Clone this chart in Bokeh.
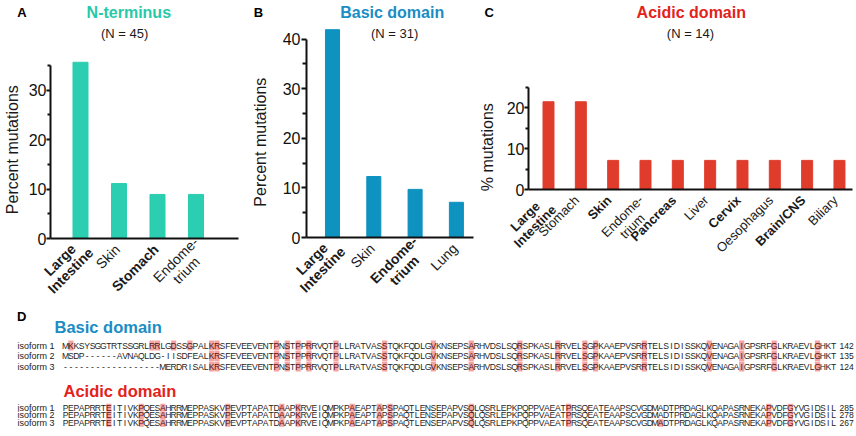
import math
from bokeh.plotting import figure
from bokeh.models import Range1d, FixedTicker, Label, ColumnDataSource
from bokeh.layouts import row, column
from bokeh.core.properties import value
from bokeh.embed import file_html
from bokeh.resources import INLINE

FONT = "Liberation Sans"

# ---------------- data ----------------
nterm_sites = ["Large\nIntestine", "Skin", "Stomach", "Endome-\ntrium"]
nterm_bold = [True, False, True, False]
nterm_pct = [35.6, 11.1, 8.9, 8.9]
nterm_ticks = [0, 10, 20, 30]
nterm_minor = [5, 15, 25, 35]

basic_sites = ["Large\nIntestine", "Skin", "Endome-\ntrium", "Lung"]
basic_bold = [True, False, True, False]
basic_pct = [41.9, 12.3, 9.7, 7.1]
basic_ticks = [0, 10, 20, 30, 40]
basic_minor = [5, 15, 25, 35]

acidic_sites = ["Large\nIntestine", "Stomach", "Skin", "Endome-\ntrium", "Pancreas",
                "Liver", "Cervix", "Oesophagus", "Brain/CNS", "Biliary"]
acidic_bold = [True, False, True, False, True, False, True, False, True, False]
acidic_pct = [21.4, 21.4, 7.1, 7.1, 7.1, 7.1, 7.1, 7.1, 7.1, 7.1]
acidic_ticks = [0, 10, 20]
acidic_minor = [5, 15, 25]

isoform_names = ["isoform 1", "isoform 2", "isoform 3"]
basic_core = ("KRSFEVEEVENTPNSTPPRRVQTPLLRATVASSTQKFQDLGVKNSEPSARHVDSLSQRSPKASLRRVELSGPK"
              "AAEPVSRRTELSIDISSKQVENAGAIGPSRFGLKRAEVLGHKT")
basic_seqs = ["MKKSYSGGTRTSSGRLRRLGDSSGPAL" + basic_core,
              "MSDP------AVNAQLDG-IISDFEAL" + basic_core,
              "------------------MERDRISAL" + basic_core]
basic_ends = [142, 135, 124]
basic_common = [27, 28, 39, 41, 43, 45, 50, 59, 68, 75, 84, 91, 96, 98, 107, 119, 125, 131, 139]
basic_marks = [[1, 16, 17, 20, 23] + basic_common, basic_common, basic_common]

acidic_seq = ("PEPAPRRTEITIVKPQESAHRRMEPPASKVPEVPTAPATDAAPKRVEIQMPKPAEAPTAPSPAQTLENSEPAPVSQ"
              "LQSRLEPKPQPPVAEATPRSQEATEAAPSCVGDMADTPRDAGLKQAPASRNEKAPVDFGYVGIDSIL")
acidic_seqs = [acidic_seq, acidic_seq, acidic_seq]
acidic_ends = [285, 278, 267]
acidic_common = [8, 14, 18, 30, 40, 43, 53, 58, 60, 75, 93, 130, 134]
acidic_marks = [acidic_common, acidic_common, sorted(acidic_common + [110])]

# ---------------- helpers ----------------
W_N = {'A': .667, 'B': .667, 'C': .722, 'D': .722, 'E': .667, 'I': .278, 'L': .556, 'N': .722,
       'O': .778, 'P': .667, 'S': .667, 'a': .556, 'b': .556, 'c': .5, 'd': .556, 'e': .556,
       'g': .556, 'h': .556, 'i': .222, 'k': .5, 'l': .222, 'm': .833, 'n': .556, 'o': .556,
       'p': .556, 'r': .333, 's': .5, 't': .278, 'u': .556, 'v': .5, 'x': .5, 'y': .5,
       '-': .333, '/': .278, ' ': .278}
W_B = {'A': .722, 'B': .722, 'C': .722, 'D': .722, 'E': .667, 'I': .278, 'L': .611, 'N': .722,
       'O': .778, 'P': .667, 'S': .667, 'a': .556, 'b': .611, 'c': .556, 'd': .611, 'e': .556,
       'g': .611, 'h': .611, 'i': .278, 'k': .556, 'l': .278, 'm': .889, 'n': .611, 'o': .611,
       'p': .611, 'r': .389, 's': .556, 't': .333, 'u': .611, 'v': .556, 'x': .556, 'y': .556,
       '-': .333, '/': .278, ' ': .278}


def tw(s, size, bold):
    t = W_B if bold else W_N
    return sum(t.get(ch, 0.6) for ch in s) * size


C45 = math.cos(math.pi / 4)
U = (C45, -C45)
V = (C45, C45)

TOP_H = 300  # height of top row (page px)
AXC = "#111111"


def bar_panel(sites, bold, pct, ticks, minor, axis_top, color, title, title_color, nlabel,
              letter_items, ylabel_items, g):
    ox = g["origin"]
    W = g["width"]
    fl, xend, fb = g["yaxis_x"], g["xaxis_end"], g["xaxis_y"]
    b0, ppx, ppy = g["bar0"], g["ppx"], g["ppy"]

    def xs(X):
        return (X - b0) / ppx

    def ys(Y):
        return (fb - Y) / ppy

    p = figure(width=W, height=TOP_H, x_range=Range1d(xs(ox), xs(ox + W)),
               y_range=Range1d(ys(TOP_H), ys(0)), toolbar_location=None,
               output_backend="svg", min_border=0)
    p.outline_line_color = None
    p.grid.visible = False
    p.background_fill_color = "white"
    p.border_fill_color = "white"

    src = ColumnDataSource(dict(x=list(range(len(pct))), top=pct))
    p.vbar(x="x", top="top", width=g["bw"], source=src, fill_color=color, line_color=color,
           line_width=1)

    ya = p.yaxis[0]
    ya.fixed_location = xs(fl)
    ya.bounds = (0, axis_top)
    ya.ticker = FixedTicker(ticks=ticks, minor_ticks=minor)
    ya.axis_line_width = 2
    ya.axis_line_color = AXC
    ya.major_tick_line_width = 2
    ya.minor_tick_line_width = 2
    ya.major_tick_line_color = AXC
    ya.minor_tick_line_color = AXC
    ya.major_tick_in = 0
    ya.minor_tick_in = 0
    ya.major_tick_out = g["tick_out"]
    ya.minor_tick_out = g["tick_out"] - 1
    ya.major_label_standoff = g["standoff"]
    ya.major_label_text_font = FONT
    ya.major_label_text_font_size = "16px"
    ya.major_label_text_color = AXC

    xa = p.xaxis[0]
    xa.fixed_location = 0
    xa.bounds = (xs(fl), xs(xend))
    xa.ticker = FixedTicker(ticks=[])
    xa.axis_line_width = 2
    xa.axis_line_color = AXC
    xa.major_tick_line_color = None
    xa.minor_tick_line_color = None

    # rotated category labels
    size, L, R1, R2 = g["lab_size"], g["lab_L"], g["R1"], g["R2"]
    for i, (lab, b) in enumerate(zip(sites, bold)):
        lines = lab.split("\n")
        n = len(lines)
        R = R1 if n == 1 else R2
        widths = [tw(s, size, b) for s in lines]
        Wb = max(widths)
        for k, (s, w) in enumerate(zip(lines, widths)):
            a = (k - (n - 1) / 2) * L
            d = (Wb - w) / 2
            dx = R[0] + a * V[0] - d * U[0]
            dy = R[1] + a * V[1] - d * U[1]
            p.add_layout(Label(x=i + dx / ppx, y=-dy / ppy, text=s, angle=math.pi / 4,
                               text_align="right", text_baseline="middle", text_font=FONT,
                               text_font_size=f"{size}px",
                               text_font_style="bold" if b else "normal",
                               text_color="#1a1a1a"))

    # panel letter, title, N
    for (lt, lx, ly) in letter_items:
        p.add_layout(Label(x=xs(lx), y=ys(ly), text=lt, text_align="left",
                           text_baseline="middle", text_font=FONT, text_font_size="13px",
                           text_font_style="bold", text_color="#000000"))
    tx, ty = g["title_pos"]
    p.add_layout(Label(x=xs(tx), y=ys(ty), text=title, text_align="center",
                       text_baseline="middle", text_font=FONT, text_font_size="16px",
                       text_font_style="bold", text_color=title_color))
    nx, ny = g["n_pos"]
    p.add_layout(Label(x=xs(nx), y=ys(ny), text=nlabel, text_align="center",
                       text_baseline="middle", text_font=FONT, text_font_size="13px",
                       text_color="#1a1a1a"))
    for (yt, yx, yy) in ylabel_items:
        p.add_layout(Label(x=xs(yx), y=ys(yy), text=yt, angle=math.pi / 2,
                           text_align="center", text_baseline="middle", text_font=FONT,
                           text_font_size="16px", text_color="#1a1a1a"))
    return p


gA = dict(origin=0, width=250, yaxis_x=50, xaxis_end=238, xaxis_y=238, bar0=80, ppx=38.5,
          ppy=4.95, bw=0.39, tick_out=4, standoff=0, lab_size=14, lab_L=15, R1=(-1.5, 8.5),
          R2=(5.0, 6.4), title_pos=(128.3, 12.3), n_pos=(124.2, 33.0))
gB = dict(origin=250, width=230, yaxis_x=306, xaxis_end=473, xaxis_y=237, bar0=332, ppx=41.3,
          ppy=4.96, bw=0.34, tick_out=5, standoff=1, lab_size=14, lab_L=15, R1=(-1.5, 8.5),
          R2=(5.0, 6.4), title_pos=(391.7, 12.3), n_pos=(394.2, 33.0))
gC = dict(origin=480, width=376, yaxis_x=528, xaxis_end=852, xaxis_y=189, bar0=548, ppx=32.33,
          ppy=4.1, bw=0.34, tick_out=4, standoff=0, lab_size=13, lab_L=14, R1=(-4, 8.5),
          R2=(0.4, 13.0), title_pos=(690.8, 12.3), n_pos=(690, 33.0))

pA = bar_panel(nterm_sites, nterm_bold, nterm_pct, nterm_ticks, nterm_minor, 35,
               "#2BCEB0", "N-terminus", "#27C9A9", "(N = 45)", [("A", 16.7, 11.5)],
               [("Percent mutations", 12.3, 149.2)], gA)
pB = bar_panel(basic_sites, basic_bold, basic_pct, basic_ticks, basic_minor, 40,
               "#0E92C0", "Basic domain", "#1A8DC4", "(N = 31)", [("B", 253.3, 11.5)],
               [("Percent mutations", 260, 141.7)], gB)
pC = bar_panel(acidic_sites, acidic_bold, acidic_pct, acidic_ticks, acidic_minor, 25,
               "#E03C2C", "Acidic domain", "#E3231B", "(N = 14)", [("C", 484, 11.5)],
               [("% mutations", 486.7, 146.7)], gC)

# ---------------- panel D: alignment ----------------
COL0, PITCH = 65.0, 5.41
D_TOP, D_BOT = 300, 436


def cx(X):
    return (X - COL0) / PITCH


pD = figure(width=856, height=D_BOT - D_TOP, x_range=Range1d(cx(0), cx(856)),
            y_range=Range1d(D_BOT, D_TOP), x_axis_type=None, y_axis_type=None,
            toolbar_location=None, output_backend="svg", min_border=0)
pD.outline_line_color = None
pD.background_fill_color = "white"
pD.border_fill_color = "white"

blocks = [
    (basic_seqs, basic_marks, basic_ends, [345.0, 355.5, 366.0], 10.5),
    (acidic_seqs, acidic_marks, acidic_ends, [407.0, 414.8, 422.6], 7.8),
]
hx, hy, hh = [], [], []
tx_, ty_, tt_, tc_ = [], [], [], []
lx_, ly_, lt_ = [], [], []
nx_, ny_, nt_ = [], [], []
for seqs, marks, ends, rows, gap in blocks:
    for r, (s, m, e) in enumerate(zip(seqs, marks, ends)):
        y = rows[r]
        ms = set(m)
        for c in m:
            hx.append(c)
            hy.append(y)
            hh.append(gap * 0.96)
        for c, ch in enumerate(s):
            tx_.append(c)
            ty_.append(y)
            tt_.append(ch)
            tc_.append("#5a1414" if c in ms else "#1e1e1e")
        lx_.append(cx(17))
        ly_.append(y)
        lt_.append(isoform_names[r])
        nx_.append(cx(839))
        ny_.append(y)
        nt_.append(str(e))

pD.rect(x="x", y="y", width=0.96, height="h",
        source=ColumnDataSource(dict(x=hx, y=hy, h=hh)),
        fill_color="#F5A3A1", line_color=None)
pD.text(x="x", y="y", text="t", source=ColumnDataSource(dict(x=tx_, y=ty_, t=tt_, c=tc_)),
        text_font=value(FONT), text_font_size=value("8.6px"), text_align="center",
        text_baseline="middle", text_color="c")
pD.text(x="x", y="y", text="t", source=ColumnDataSource(dict(x=lx_, y=ly_, t=lt_)),
        text_font=value(FONT), text_font_size=value("9px"), text_align="left",
        text_baseline="middle", text_color="#1a1a1a")
pD.text(x="x", y="y", text="t", source=ColumnDataSource(dict(x=nx_, y=ny_, t=nt_)),
        text_font=value(FONT), text_font_size=value("8.5px"), text_align="left",
        text_baseline="middle", text_color="#1a1a1a")

pD.add_layout(Label(x=cx(16.5), y=316.3, text="D", text_align="left", text_baseline="middle",
                    text_font=FONT, text_font_size="13px", text_font_style="bold",
                    text_color="#000000"))
pD.add_layout(Label(x=cx(54), y=326, text="Basic domain", text_align="left",
                    text_baseline="middle", text_font=FONT, text_font_size="16.5px",
                    text_font_style="bold", text_color="#1A8DC4"))
pD.add_layout(Label(x=cx(63), y=390, text="Acidic domain", text_align="left",
                    text_baseline="middle", text_font=FONT, text_font_size="16.5px",
                    text_font_style="bold", text_color="#E3231B"))

layout = column(row(pA, pB, pC), pD)
open("out.html", "w").write(file_html(layout, INLINE))
